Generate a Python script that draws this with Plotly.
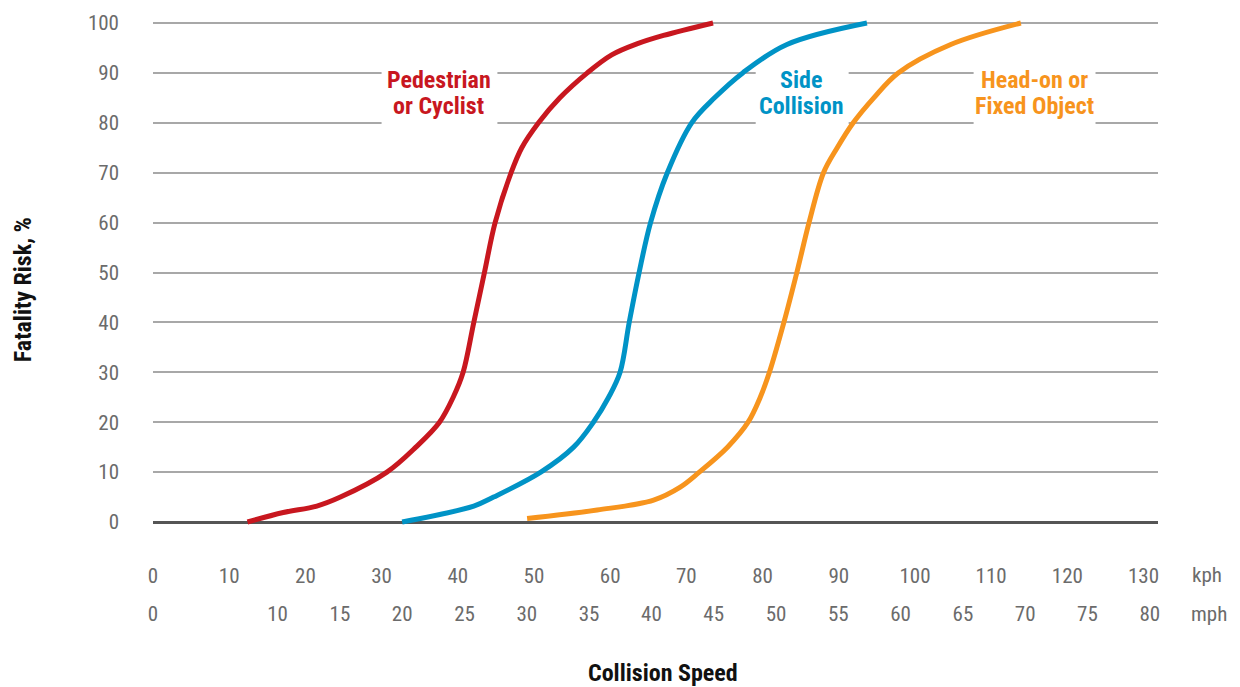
import plotly.graph_objects as go

# ---- data (collision speed in kph, fatality risk in %) ----
ped_kph = [12.4, 17.1, 21.5, 24.6, 30.7, 34.5, 37.6, 39.4, 40.7, 42.1, 43.5, 44.9, 47.0, 48.4, 50.6, 53.4, 57.0, 60.2, 63.5, 67.0, 73.5]
ped_risk = [0, 1.9, 3.2, 5, 10, 15, 20, 25, 30, 40, 50, 60, 70, 75, 80, 85, 90, 93.6, 95.8, 97.5, 100]

side_kph = [32.7, 42.1, 44.7, 50.9, 55.2, 57.8, 59.8, 61.3, 62.5, 63.8, 65.3, 67.5, 70.7, 73.7, 77.4, 83.2, 93.7]
side_risk = [0, 3.2, 5, 10, 15, 20, 25, 30, 40, 50, 60, 70, 80, 85, 90, 95.7, 100]

head_kph = [49.1, 58.3, 65.7, 69.2, 71.7, 75.4, 78.1, 79.7, 80.9, 82.8, 84.5, 86.1, 88.0, 89.8, 91.9, 94.6, 97.8, 104.7, 113.9]
head_risk = [0.7, 2.4, 4.4, 7, 10, 15, 20, 25, 30, 40, 50, 60, 70, 75, 80, 85, 90, 95.7, 100]

kph_ticks = [0, 10, 20, 30, 40, 50, 60, 70, 80, 90, 100, 110, 120, 130]
mph_ticks = [0, 10, 15, 20, 25, 30, 35, 40, 45, 50, 55, 60, 65, 70, 75, 80]
risk_ticks = [0, 10, 20, 30, 40, 50, 60, 70, 80, 90, 100]

label_line1 = ["Pedestrian", "Side", "Head-on or"]
label_line2 = ["or Cyclist", "Collision", "Fixed Object"]
label_x = [37.5, 85.0, 115.7]
label_y1 = 88.6
label_y2 = 83.4
label_box_x0 = [30.0, 79.1, 107.7]
label_box_x1 = [45.2, 91.3, 123.7]
label_box_y = [78, 92]

RED = "#C8171F"
BLUE = "#0093C6"
ORANGE = "#F7941D"
colors = [RED, BLUE, ORANGE]

FONT = "Liberation Sans Narrow, Roboto Condensed, Roboto, sans-serif"
TICK_COLOR = "#6b6b6b"

fig = go.Figure()
for xs, ys, c in [(ped_kph, ped_risk, RED), (side_kph, side_risk, BLUE), (head_kph, head_risk, ORANGE)]:
    fig.add_trace(go.Scatter(x=xs, y=ys, mode="lines", line=dict(color=c, width=5, shape="spline", smoothing=1.0),
                             showlegend=False, hoverinfo="skip"))

# invisible trace to activate the mph axis
fig.add_trace(go.Scatter(x=mph_ticks, y=[None] * len(mph_ticks), xaxis="x2", mode="lines",
                         showlegend=False, hoverinfo="skip"))

for x0, x1 in zip(label_box_x0, label_box_x1):
    fig.add_shape(type="rect", xref="x", yref="y", x0=x0, x1=x1, y0=label_box_y[0], y1=label_box_y[1],
                  fillcolor="white", line=dict(width=0), layer="between")

for l1, l2, lx, c in zip(label_line1, label_line2, label_x, colors):
    for txt, ly in [(l1, label_y1), (l2, label_y2)]:
        fig.add_annotation(x=lx, y=ly, xref="x", yref="y", text=f"<b>{txt}</b>", showarrow=False,
                           font=dict(family=FONT, size=24, color=c), xanchor="center", yanchor="middle")

fig.add_annotation(xref="paper", yref="paper", x=1.049, y=-0.095, text="kph", showarrow=False,
                   font=dict(family=FONT, size=21, color=TICK_COLOR), xanchor="center", yanchor="middle")
fig.add_annotation(xref="paper", yref="paper", x=1.051, y=-0.170, text="mph", showarrow=False,
                   font=dict(family=FONT, size=21, color=TICK_COLOR), xanchor="center", yanchor="middle")
fig.add_annotation(xref="paper", yref="paper", x=0.507, y=-0.287, text="<b>Collision Speed</b>", showarrow=False,
                   font=dict(family=FONT, size=24, color="#111111"), xanchor="center", yanchor="middle")
fig.add_annotation(xref="paper", yref="paper", x=-0.13, y=0.466, text="<b>Fatality Risk, %</b>", showarrow=False,
                   textangle=-90, font=dict(family=FONT, size=24, color="#111111"), xanchor="center", yanchor="middle")

fig.update_layout(
    width=1240, height=687,
    margin=dict(l=145, r=90, t=10, b=168, autoexpand=False),
    plot_bgcolor="white", paper_bgcolor="white",
    xaxis=dict(range=[0, 131.9], tickvals=kph_ticks, ticktext=[str(v) for v in kph_ticks],
               showgrid=False, zeroline=False, showline=False, ticks="", automargin=False,
               tickfont=dict(family=FONT, size=21, color=TICK_COLOR), ticklabelstandoff=34),
    xaxis2=dict(range=[0, 80.66], overlaying="x", side="bottom", anchor="y",
                tickvals=mph_ticks, ticktext=[str(v) for v in mph_ticks],
                showgrid=False, zeroline=False, showline=False, ticks="", automargin=False,
                tickfont=dict(family=FONT, size=21, color=TICK_COLOR), ticklabelstandoff=72),
    yaxis=dict(range=[-1, 101], tickvals=risk_ticks, ticktext=[str(v) for v in risk_ticks],
               showgrid=True, gridcolor="#a8a8a8", gridwidth=1.5, automargin=False,
               zeroline=True, zerolinecolor="#555555", zerolinewidth=3, showline=False, ticks="",
               tickfont=dict(family=FONT, size=21, color=TICK_COLOR), ticklabelstandoff=33),
)

fig.write_html("out.html")
